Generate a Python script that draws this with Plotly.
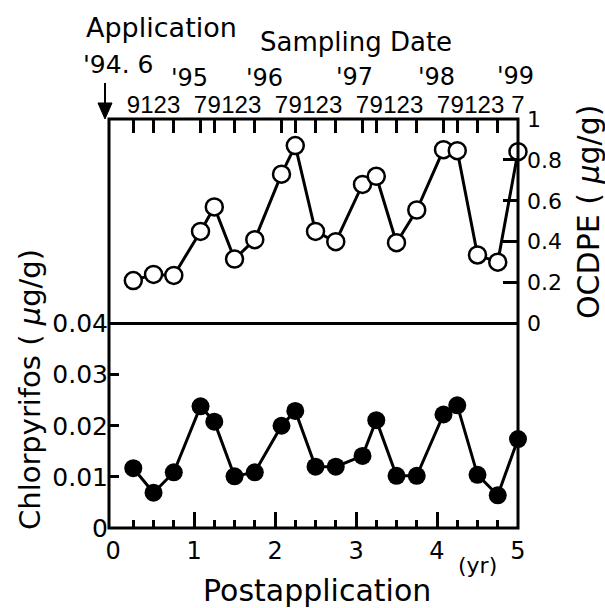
import plotly.graph_objects as go

# ---- data (years after application) ----
years = [0.25, 0.5, 0.75, 1.08, 1.25, 1.5, 1.75, 2.08, 2.25, 2.5,
         2.75, 3.08, 3.25, 3.5, 3.75, 4.08, 4.25, 4.5, 4.75, 5.0]
month_labels = ["9", "12", "3", "7", "9", "12", "3", "7", "9", "12",
                "3", "7", "9", "12", "3", "7", "9", "12", "3", "7"]
ocdpe = [0.21, 0.24, 0.235, 0.45, 0.57, 0.315, 0.41, 0.73, 0.87, 0.45,
         0.40, 0.68, 0.72, 0.395, 0.555, 0.85, 0.845, 0.335, 0.30, 0.84]
chlorpyrifos = [0.0117, 0.0069, 0.0109, 0.0238, 0.0208, 0.0101, 0.0109, 0.0200, 0.0229, 0.0120,
                0.0120, 0.0141, 0.0211, 0.0102, 0.0102, 0.0222, 0.0240, 0.0104, 0.0064, 0.0174]
year_labels = ["'95", "'96", "'97", "'98", "'99"]
year_label_x = [0.94, 1.87, 2.98, 3.99, 4.97]
year_label_y = [78, 78, 77, 77, 76]
post_ticks = [0, 1, 2, 3, 4, 5]
left_ticks = [0, 0.01, 0.02, 0.03, 0.04]
left_ticktext = ["0", "0.01", "0.02", "0.03", "0.04"]
right_ticks = [0, 0.2, 0.4, 0.6, 0.8, 1.0]
right_ticktext = ["0", "0.2", "0.4", "0.6", "0.8", "1"]

FONT = "DejaVu Sans"
NARROW = "Liberation Sans Narrow, Liberation Sans, Arial"
W, H = 605, 608
L, R, T, B = 109, 87, 119, 80
PW, PH = W - L - R, H - T - B


def px(x):
    return (x - L) / PW


def py(y):
    return (H - B - y) / PH


XR = [-0.05, 5.0]

fig = go.Figure()
fig.add_trace(go.Scatter(
    x=years, y=chlorpyrifos, xaxis="x", yaxis="y", mode="lines+markers",
    line=dict(color="black", width=3),
    marker=dict(symbol="circle", size=18, color="black"),
    cliponaxis=False, showlegend=False))
fig.add_trace(go.Scatter(
    x=years, y=ocdpe, xaxis="x2", yaxis="y2", mode="lines+markers",
    line=dict(color="black", width=3),
    marker=dict(symbol="circle", size=17, color="white", line=dict(color="black", width=2.5)),
    cliponaxis=False, showlegend=False))
# invisible helper trace so the bottom label axis is drawn
fig.add_trace(go.Scatter(
    x=years, y=chlorpyrifos, xaxis="x3", yaxis="y", mode="markers",
    marker=dict(size=1, opacity=0), hoverinfo="skip", showlegend=False))

quarter_ticks = [q / 4 for q in range(1, 20) if q % 4]

fig.update_layout(
    width=W, height=H,
    margin=dict(l=L, r=R, t=T, b=B, autoexpand=False),
    paper_bgcolor="white", plot_bgcolor="white",
    font=dict(family=FONT, color="black", size=22),
    xaxis=dict(domain=[0, 1], anchor="y", range=XR, showgrid=False, zeroline=False,
               showline=False, tickmode="array", tickvals=[1, 2, 3, 4], ticks="inside",
               ticklen=16, tickwidth=2.5, tickcolor="black", showticklabels=False,
               minor=dict(tickvals=quarter_ticks, ticks="inside", ticklen=8,
                          tickwidth=2.5, tickcolor="black")),
    xaxis3=dict(overlaying="x", anchor="y", side="bottom", range=XR, showgrid=False,
                zeroline=False, showline=False, tickmode="array", tickvals=post_ticks,
                ticktext=[str(v) for v in post_ticks], ticks="",
                tickfont=dict(size=24, family=FONT), ticklabelstandoff=6),
    xaxis2=dict(overlaying="x", anchor="y2", side="top", range=XR, showgrid=False,
                zeroline=False, showline=False, tickmode="array", tickvals=years,
                ticktext=month_labels, ticks="inside", ticklen=14, tickwidth=2.5,
                tickcolor="black", tickfont=dict(size=24, family=NARROW),
                tickangle=0, ticklabelstandoff=0),
    yaxis=dict(domain=[0, 0.5], anchor="x", range=[0, 0.04], showgrid=False,
               zeroline=False, showline=False, tickmode="array", tickvals=left_ticks,
               ticktext=left_ticktext, ticks="inside", ticklen=10, tickwidth=2.5,
               tickcolor="black", tickfont=dict(size=25, family=FONT)),
    yaxis2=dict(domain=[0.5, 1], anchor="x", side="right", range=[0, 1], showgrid=False,
                zeroline=False, showline=False, tickmode="array", tickvals=right_ticks,
                ticktext=right_ticktext, ticks="inside", ticklen=15, tickwidth=2.5,
                tickcolor="black", tickfont=dict(size=22, family=FONT),
                ticklabelstandoff=8),
)

shapes = [
    dict(type="rect", xref="paper", yref="paper", x0=0, x1=1, y0=0, y1=1,
         line=dict(color="black", width=3)),
    dict(type="line", xref="paper", yref="paper", x0=0, x1=1, y0=0.5, y1=0.5,
         line=dict(color="black", width=3)),
    dict(type="line", xref="paper", yref="paper", x0=px(105), x1=px(105),
         y0=py(83), y1=py(105), line=dict(color="black", width=2)),
    dict(type="path", xref="paper", yref="paper",
         path="M %f %f L %f %f L %f %f Z" % (px(98), py(103), px(112), py(103), px(105), py(119)),
         fillcolor="black", line=dict(color="black", width=1)),
]
fig.update_layout(shapes=shapes)

ann = [
    dict(text="Application", x=px(161), y=py(27), size=27),
    dict(text="Sampling Date", x=px(356), y=py(42), size=26),
    dict(text="'94. 6", x=px(118), y=py(65), size=25),
    dict(text="Postapplication", x=px(317), y=py(590), size=30),
    dict(text="(yr)", x=px(477), y=py(565), size=22),
]
annotations = [dict(text=a["text"], x=a["x"], y=a["y"], xref="paper", yref="paper",
                    xanchor="center", yanchor="middle", showarrow=False,
                    font=dict(family=FONT, size=a["size"], color="black")) for a in ann]
for lab, xv, yv in zip(year_labels, year_label_x, year_label_y):
    annotations.append(dict(text=lab, x=xv, y=py(yv), xref="x", yref="paper",
                            xanchor="center", yanchor="middle", showarrow=False,
                            font=dict(family=FONT, size=24, color="black")))
annotations.append(dict(text="Chlorpyrifos ( <i>μ</i>g/g)", x=px(30), y=py(390),
                        xref="paper", yref="paper", textangle=-90, showarrow=False,
                        xanchor="center", yanchor="middle",
                        font=dict(family=FONT, size=29, color="black")))
annotations.append(dict(text="OCDPE ( <i>μ</i>g/g)", x=px(588), y=py(212),
                        xref="paper", yref="paper", textangle=-90, showarrow=False,
                        xanchor="center", yanchor="middle",
                        font=dict(family=FONT, size=30, color="black")))
fig.update_layout(annotations=annotations)

fig.write_html("out.html", config={"displayModeBar": False},
               post_script="document.body.style.margin='0';document.body.style.padding='0';")
